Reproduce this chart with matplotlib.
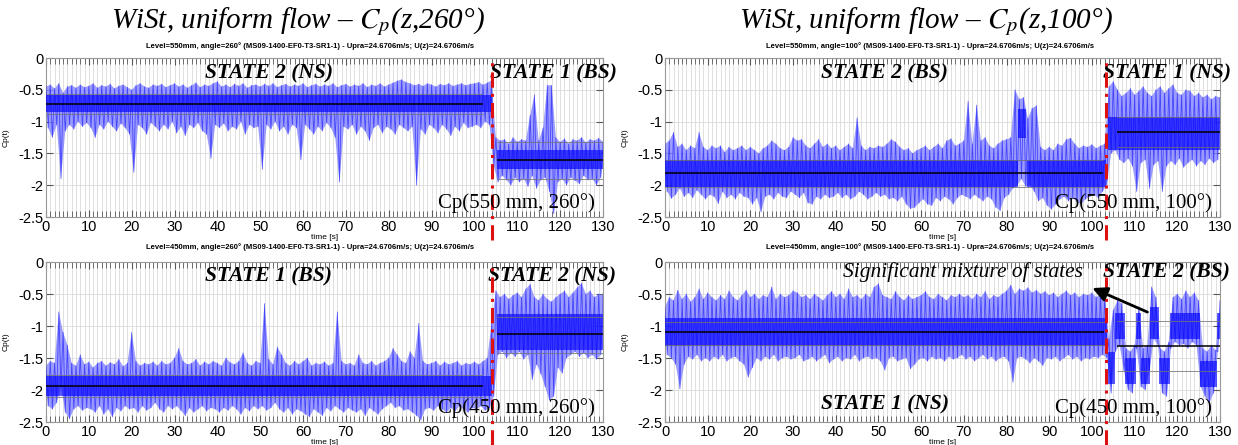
import numpy as np
import matplotlib
matplotlib.use("Agg")
import matplotlib.pyplot as plt

plt.rcParams['font.family'] = ['Liberation Sans', 'DejaVu Sans']
plt.rcParams['mathtext.fontset'] = 'stix'

# time grid of the read-off envelope: upper values at whole seconds,
# lower values at the half seconds in between
t_hi = np.arange(0, 131, 1.0)
t_lo = np.arange(0.5, 130, 1.0)

# ---- Cp(550 mm, 260 deg) ----
cp550_260_hi = [
    -0.45, -0.42, -0.48, -0.40, -0.55, -0.45, -0.43, -0.47, -0.42, -0.46,
    -0.44, -0.40, -0.47, -0.43, -0.45, -0.41, -0.48, -0.44, -0.42, -0.46,
    -0.50, -0.43, -0.40, -0.45, -0.47, -0.42, -0.44, -0.41, -0.46, -0.43,
    -0.40, -0.45, -0.42, -0.47, -0.43, -0.39, -0.46, -0.42, -0.44, -0.40,
    -0.37, -0.45, -0.42, -0.46, -0.41, -0.44, -0.40, -0.47, -0.43, -0.42,
    -0.45, -0.41, -0.44, -0.40, -0.46, -0.43, -0.41, -0.45, -0.42, -0.44,
    -0.40, -0.46, -0.43, -0.41, -0.45, -0.42, -0.44, -0.40, -0.46, -0.43,
    -0.41, -0.45, -0.42, -0.44, -0.40, -0.46, -0.42, -0.44, -0.40, -0.45,
    -0.42, -0.39, -0.36, -0.34, -0.38, -0.40, -0.43, -0.41, -0.44, -0.40,
    -0.42, -0.45, -0.41, -0.43, -0.40, -0.44, -0.42, -0.40, -0.43, -0.41,
    -0.40, -0.38, -0.42, -0.39, -0.35,
    -1.25, -1.30, -1.28, -1.35, -1.25, -1.32, -1.28, -1.30, -0.90, -0.58,
    -1.30, -1.10, -0.43, -0.43, -1.25, -1.32, -1.27, -1.35, -1.28, -1.30,
    -1.25, -1.33, -1.28, -1.30, -1.26, -1.32]
cp550_260_lo = [
    -1.10, -1.25, -1.05, -1.90, -1.15, -1.05, -1.12, -1.00, -1.08, -1.02,
    -1.10, -1.25, -1.05, -1.12, -1.00, -1.08, -1.15, -1.03, -1.10, -1.20,
    -1.80, -1.05, -1.10, -1.20, -1.02, -1.08, -1.15, -1.05, -1.12, -1.00,
    -1.18, -1.08, -1.22, -1.05, -1.10, -1.02, -1.15, -1.20, -1.58, -1.05,
    -1.10, -1.03, -1.15, -1.08, -1.12, -1.00, -1.20, -1.05, -1.10, -1.08,
    -1.75, -1.05, -1.12, -1.00, -1.15, -1.08, -1.20, -1.05, -1.10, -1.60,
    -1.05, -1.12, -1.20, -1.08, -1.15, -1.02, -1.10, -1.25, -1.95, -1.08,
    -1.12, -1.05, -1.20, -1.08, -1.15, -1.30, -1.10, -1.05, -1.18, -1.08,
    -1.12, -1.20, -1.05, -1.10, -1.15, -1.08, -2.00, -1.12, -1.20, -1.05,
    -1.10, -1.18, -1.05, -1.12, -1.22, -1.08, -1.15, -1.02, -1.10, -1.08,
    -1.05, -1.10, -1.00, -1.05,
    -1.70,
    -1.95, -1.85, -1.92, -2.00, -1.88, -1.95, -1.90, -2.02, -1.85, -2.05,
    -1.92, -1.88, -2.10, -2.45, -1.95, -1.90, -2.00, -1.88, -1.93, -1.98,
    -1.85, -1.92, -1.90, -2.00, -1.88]
cp550_260_core = [(0, 104, -0.85, -0.58), (105.2, 130, -1.75, -1.45)]
cp550_260_stats = [(0, 102, -0.72, -0.56, -0.88), (105.3, 130, -1.60, -1.32, -1.90)]

# ---- Cp(450 mm, 260 deg) ----
cp450_260_hi = [
    -1.62, -1.55, -1.58, -0.78, -1.10, -1.30, -1.58, -1.62, -1.45, -1.60,
    -1.56, -1.65, -1.58, -1.55, -1.62, -1.57, -1.60, -1.52, -1.63, -1.58,
    -1.10, -1.55, -1.62, -1.58, -1.60, -1.56, -1.62, -1.55, -1.60, -1.58,
    -1.50, -1.35, -1.55, -1.60, -1.58, -1.52, -1.62, -1.56, -1.60, -1.55,
    -1.58, -1.62, -1.50, -1.57, -1.60, -1.55, -1.42, -1.58, -1.62, -1.55,
    -1.58, -0.65, -1.52, -1.60, -1.33, -1.45, -1.58, -1.62, -1.55, -1.60,
    -1.55, -1.50, -1.62, -1.58, -1.60, -1.56, -1.62, -1.58, -0.78, -1.55,
    -1.60, -1.58, -1.62, -1.45, -1.58, -1.60, -1.55, -1.62, -1.58, -1.55,
    -1.50, -1.35, -1.45, -1.55, -1.58, -1.40, -1.50, -0.96, -1.55, -1.60,
    -1.58, -1.55, -1.62, -1.56, -1.60, -1.58, -1.55, -1.62, -1.58, -1.60,
    -1.56, -1.60, -1.55, -1.50, -0.95,
    -0.45, -0.55, -0.50, -0.58, -0.52, -0.48, -0.55, -0.42, -0.35, -0.55,
    -0.60, -0.50, -0.58, -0.62, -0.55, -0.50, -0.45, -0.55, -0.48, -0.40,
    -0.33, -0.50, -0.45, -0.55, -0.50, -0.52]
cp450_260_lo = [
    -2.25, -2.30, -2.20, -1.95, -2.35, -2.45, -2.30, -2.25, -2.32, -2.28,
    -2.30, -2.35, -2.25, -2.38, -2.30, -2.42, -2.28, -2.33, -2.25, -2.30,
    -2.28, -2.35, -2.25, -2.32, -2.28, -2.20, -2.30, -2.35, -2.25, -2.30,
    -2.25, -2.32, -2.40, -2.28, -2.35, -2.30, -2.25, -2.33, -2.28, -2.30,
    -2.35, -2.28, -2.32, -2.25, -2.30, -2.38, -2.28, -2.33, -2.25, -2.30,
    -2.25, -2.32, -2.28, -2.20, -2.30, -2.35, -2.28, -2.38, -2.30, -2.33,
    -2.38, -2.42, -2.30, -2.35, -2.40, -2.28, -2.33, -2.25, -2.30, -2.35,
    -2.28, -2.32, -2.35, -2.30, -2.40, -2.28, -2.33, -2.38, -2.30, -2.25,
    -2.20, -2.28, -2.25, -2.32, -2.30, -2.35, -2.40, -2.47, -2.30, -2.28,
    -2.32, -2.25, -2.30, -2.35, -2.28, -2.33, -2.25, -2.30, -2.35, -2.28,
    -2.30, -2.25, -2.32, -2.28,
    -2.10,
    -1.45, -1.40, -1.50, -1.42, -1.48, -1.40, -1.52, -1.45, -1.84, -1.60,
    -1.75, -1.95, -2.16, -2.10, -1.65, -1.74, -1.50, -1.45, -1.40, -1.48,
    -1.42, -1.50, -1.45, -1.52, -1.45]
cp450_260_core = [(0, 104, -2.10, -1.78), (105.2, 130, -1.38, -0.82)]
cp450_260_stats = [(0, 102, -1.93, -1.77, -2.11), (105.2, 130, -1.125, -0.855, -1.42)]

# ---- Cp(550 mm, 100 deg) ----
cp550_100_hi = [
    -1.35, -1.30, -1.17, -1.40, -1.35, -1.45, -1.38, -1.42, -1.17, -1.40,
    -1.45, -1.38, -1.42, -1.38, -1.48, -1.40, -1.45, -1.42, -1.38, -1.45,
    -1.40, -1.45, -1.50, -1.42, -1.38, -1.30, -1.35, -1.42, -1.45, -1.40,
    -1.25, -1.30, -1.28, -1.38, -1.42, -1.35, -1.28, -1.40, -1.35, -1.42,
    -1.38, -1.45, -1.40, -1.35, -1.42, -0.94, -1.38, -1.45, -1.40, -1.42,
    -1.38, -1.40, -1.35, -1.28, -1.32, -1.40, -1.45, -1.42, -1.50, -1.45,
    -1.42, -1.38, -1.45, -1.40, -1.35, -1.42, -1.30, -1.27, -1.38, -1.35,
    -1.30, -0.68, -1.35, -0.74, -1.30, -1.25, -1.38, -1.42, -1.35, -1.30,
    -1.28, -1.25, -0.50, -0.65, -0.62, -0.95, -0.79, -0.75, -1.40, -1.45,
    -1.40, -1.45, -1.35, -1.38, -1.28, -1.26, -1.35, -1.42, -1.38, -1.40,
    -1.36, -1.42, -1.38, -1.35,
    -0.45, -0.37, -0.50, -0.60, -0.55, -0.48, -0.58, -0.52, -0.45, -0.55,
    -0.60, -0.50, -0.45, -0.55, -0.48, -0.42, -0.55, -0.58, -0.50, -0.52,
    -0.60, -0.55, -0.62, -0.58, -0.65, -0.60, -0.62]
cp550_100_lo = [
    -2.10, -2.21, -2.15, -2.05, -2.18, -2.12, -2.20, -2.08, -2.15, -2.22,
    -2.15, -2.18, -2.29, -2.10, -2.20, -2.15, -2.22, -2.12, -2.18, -2.20,
    -2.30, -2.20, -2.42, -2.18, -2.15, -2.22, -2.12, -2.18, -2.20, -2.10,
    -2.15, -2.20, -2.12, -2.28, -2.30, -2.18, -2.22, -2.15, -2.20, -2.18,
    -2.12, -2.20, -2.15, -2.22, -2.18, -2.10, -2.15, -2.22, -2.18, -2.12,
    -2.18, -2.15, -2.22, -2.20, -2.25, -2.18, -2.30, -2.37, -2.35, -2.28,
    -2.22, -2.30, -2.32, -2.20, -2.25, -2.18, -2.22, -2.30, -2.20, -2.15,
    -2.18, -2.22, -2.15, -2.20, -2.25, -2.18, -2.22, -2.35, -2.40, -2.20,
    -2.15, -2.05, -2.00, -1.90, -2.02, -2.00, -2.10, -2.25, -2.20, -2.32,
    -2.38, -2.30, -2.22, -2.18, -2.25, -2.20, -2.26, -2.30, -2.22, -2.18,
    -2.15, -2.20, -2.10,
    -2.00,
    -1.50, -1.45, -1.60, -1.65, -1.58, -1.70, -2.10, -1.65, -1.60, -2.05,
    -1.68, -1.62, -2.10, -1.70, -1.62, -1.68, -1.58, -1.72, -1.65, -1.60,
    -1.70, -1.62, -1.68, -1.58, -1.65, -1.60]
cp550_100_core = [(0, 82.6, -2.03, -1.60), (82.8, 84.6, -1.25, -0.80),
                  (84.8, 103.3, -2.03, -1.60), (103.8, 130, -1.45, -0.92)]
cp550_100_stats = [(0, 102.6, -1.81, -1.61, -2.03), (105.8, 130, -1.16, -0.93, -1.40)]

# ---- Cp(450 mm, 100 deg) ----
cp450_100_hi = [
    -0.70, -0.55, -0.60, -0.44, -0.58, -0.50, -0.62, -0.55, -0.42, -0.58,
    -0.48, -0.55, -0.60, -0.52, -0.58, -0.45, -0.55, -0.60, -0.52, -0.44,
    -0.55, -0.50, -0.58, -0.52, -0.55, -0.39, -0.58, -0.50, -0.55, -0.52,
    -0.45, -0.48, -0.55, -0.52, -0.58, -0.50, -0.55, -0.60, -0.52, -0.46,
    -0.55, -0.50, -0.58, -0.42, -0.55, -0.52, -0.58, -0.50, -0.55, -0.39,
    -0.34, -0.52, -0.55, -0.58, -0.46, -0.55, -0.60, -0.52, -0.58, -0.55,
    -0.52, -0.46, -0.55, -0.58, -0.50, -0.55, -0.60, -0.52, -0.55, -0.50,
    -0.55, -0.52, -0.58, -0.50, -0.55, -0.46, -0.58, -0.52, -0.55, -0.50,
    -0.45, -0.36, -0.50, -0.42, -0.45, -0.40, -0.48, -0.44, -0.50, -0.46,
    -0.52, -0.48, -0.55, -0.50, -0.45, -0.52, -0.48, -0.55, -0.50, -0.52,
    -0.48, -0.55, -0.50, -0.52,
    -1.20,
    -0.75, -0.60, -0.65, -1.35, -1.40, -1.30, -0.70, -1.35, -1.30, -0.39,
    -0.55, -1.35, -1.40, -1.25, -0.55, -0.50, -0.58, -0.45, -0.55, -0.48,
    -0.60, -1.35, -1.40, -1.30, -1.38, -0.60]
cp450_100_lo = [
    -1.45, -1.50, -1.60, -1.98, -1.60, -1.48, -1.52, -1.45, -1.55, -1.50,
    -1.55, -1.48, -1.52, -1.45, -1.55, -1.50, -1.48, -1.55, -1.60, -1.80,
    -1.65, -1.50, -1.55, -1.48, -1.52, -1.45, -1.55, -1.50, -1.48, -1.52,
    -1.50, -1.45, -1.55, -1.52, -1.48, -1.55, -1.50, -1.45, -1.58, -1.52,
    -1.48, -1.55, -1.50, -1.52, -1.45, -1.55, -1.50, -1.48, -1.52, -1.50,
    -1.55, -1.69, -1.50, -1.48, -1.55, -1.52, -1.50, -1.67, -1.60, -1.52,
    -1.50, -1.55, -1.48, -1.52, -1.50, -1.55, -1.48, -1.52, -1.50, -1.45,
    -1.52, -1.48, -1.55, -1.50, -1.45, -1.52, -1.48, -1.55, -1.50, -1.48,
    -1.55, -1.88, -1.50, -1.48, -1.52, -1.58, -1.50, -1.55, -1.62, -1.50,
    -1.52, -1.48, -1.55, -1.50, -1.45, -1.52, -1.48, -1.55, -1.50, -1.52,
    -1.48, -1.50, -1.45,
    -1.50,
    -2.05, -1.40, -1.30, -1.70, -2.00, -2.05, -1.35, -1.95, -2.00, -1.70,
    -1.20, -1.30, -2.05, -2.10, -1.35, -1.25, -1.30, -1.28, -1.35, -1.25,
    -1.30, -1.95, -2.10, -2.20, -2.05, -1.40]
cp450_100_core = [(0, 103.5, -1.32, -0.88), (103.8, 105.3, -1.90, -1.40),
                  (105.3, 107.8, -1.20, -0.80), (107.8, 110.4, -1.90, -1.50),
                  (110.4, 111.6, -1.20, -0.80), (111.6, 113.6, -1.90, -1.50),
                  (113.6, 115.6, -1.20, -0.70), (115.6, 118.3, -1.90, -1.50),
                  (118.3, 125.2, -1.20, -0.80), (125.2, 129.4, -1.95, -1.55),
                  (129.4, 130, -1.20, -0.80)]
cp450_100_stats = [(0, 102.8, -1.10, -0.93, -1.29), (105.8, 130, -1.31, -0.92, -1.70)]

subtitle = ("Level={}mm, angle={}\u00b0 (MS09-1400-EF0-T3-SR1-1) - "
            "Upra=24.6706m/s; U(z)=24.6706m/s")

fig = plt.figure(figsize=(12.38, 4.45), dpi=100)


def frac(x0, y0, x1, y1):
    # pixel box -> figure fraction rect
    return [x0 / 1238, 1 - y1 / 445, (x1 - x0) / 1238, (y1 - y0) / 445]


def draw_panel(ax, hi, lo, core, stats, switch_t):
    assert len(hi) == 131 and len(lo) == 130
    x = np.empty(261)
    y = np.empty(261)
    x[0::2] = t_hi
    x[1::2] = t_lo
    y[0::2] = hi
    y[1::2] = lo

    ax.set_xlim(0, 130)
    ax.set_ylim(-2.5, 0)
    ax.set_xticks(np.arange(0, 131, 10))
    ax.set_xticks(np.arange(0, 131, 1), minor=True)
    ax.set_yticks([0, -0.5, -1, -1.5, -2, -2.5])
    ax.set_yticklabels(['0', '-0.5', '-1', '-1.5', '-2', '-2.5'])
    ax.tick_params(which='both', direction='in', top=True, right=True,
                   labelsize=10.5, color='0.35', pad=2)
    ax.tick_params(which='major', length=5)
    ax.tick_params(which='minor', length=4, width=0.6)
    ax.grid(which='both', axis='x', color='0.86', lw=0.6)
    ax.grid(which='major', axis='y', color='0.86', lw=0.6)
    ax.set_axisbelow(True)
    for s in ax.spines.values():
        s.set_color('0.6')
        s.set_linewidth(0.8)
    ax.set_xlabel('time [s]', fontsize=6, labelpad=0)
    ax.set_ylabel('Cp(t)', fontsize=6, labelpad=6)

    # light fringe = full excursion band, darker core = where the trace sits most
    ax.fill(np.r_[t_hi, t_lo[::-1]], np.r_[hi, lo[::-1]],
            color=(0.52, 0.52, 1.0), lw=0, alpha=0.8, zorder=2)
    for t0, t1, c_lo, c_hi in core:
        ax.fill_between([t0, t1], [c_lo, c_lo], [c_hi, c_hi],
                        color='blue', alpha=0.65, lw=0, zorder=3)
    ax.plot(x, y, color='blue', lw=0.6, alpha=0.55, zorder=3)

    for t0, t1, m, up, dn in stats:
        ax.hlines([up, dn], t0, t1, color='0.45', lw=0.7, alpha=0.8, zorder=4)
        ax.hlines(m, t0, t1, color='black', lw=1.1, zorder=5)

    ax.axvline(switch_t, ymin=-0.145, ymax=1.0, color='#dd1111', lw=2.2,
               ls=(0, (5, 2, 1, 2)), clip_on=False, zorder=6)


serif = ['Liberation Serif', 'DejaVu Serif']
bold_it = dict(family=serif, fontsize=15.5, fontweight='bold', style='italic')

ax1 = fig.add_axes(frac(46, 58, 603, 217))
draw_panel(ax1, cp550_260_hi, cp550_260_lo, cp550_260_core, cp550_260_stats, 104)
ax2 = fig.add_axes(frac(46, 262, 603, 422))
draw_panel(ax2, cp450_260_hi, cp450_260_lo, cp450_260_core, cp450_260_stats, 104)
ax3 = fig.add_axes(frac(665, 58, 1220, 217))
draw_panel(ax3, cp550_100_hi, cp550_100_lo, cp550_100_core, cp550_100_stats, 103.4)
ax4 = fig.add_axes(frac(665, 262, 1220, 422))
draw_panel(ax4, cp450_100_hi, cp450_100_lo, cp450_100_core, cp450_100_stats, 103.4)

# titles
fig.text(298 / 1238, 1 - 22 / 445, 'WiSt, uniform flow \u2013 $C_p$(z,260\u00b0)',
         family=serif, style='italic', fontsize=21, ha='center', va='center')
fig.text(926 / 1238, 1 - 22 / 445, 'WiSt, uniform flow \u2013 $C_p$(z,100\u00b0)',
         family=serif, style='italic', fontsize=21, ha='center', va='center')
for xc, yc, lev, ang in [(310, 46, 550, 260), (310, 247, 450, 260),
                         (930, 46, 550, 100), (930, 247, 450, 100)]:
    fig.text(xc / 1238, 1 - yc / 445, subtitle.format(lev, ang), fontsize=5.5,
             fontweight='bold', ha='center', va='center')

# state labels
ax1.text(52, -0.24, 'STATE 2 (NS)', ha='center', va='center', **bold_it)
ax1.text(103.6, -0.24, 'STATE 1 (BS)', ha='left', va='center', clip_on=False, **bold_it)
ax2.text(52, -0.23, 'STATE 1 (BS)', ha='center', va='center', **bold_it)
ax2.text(103.2, -0.23, 'STATE 2 (NS)', ha='left', va='center', clip_on=False, **bold_it)
ax3.text(51.5, -0.24, 'STATE 2 (BS)', ha='center', va='center', **bold_it)
ax3.text(102.6, -0.24, 'STATE 1 (NS)', ha='left', va='center', clip_on=False, **bold_it)
ax4.text(102.6, -0.16, 'STATE 2 (BS)', ha='left', va='center', clip_on=False, **bold_it)
ax4.text(51.5, -2.23, 'STATE 1 (NS)', ha='center', va='center', **bold_it)
ax4.text(41.7, -0.16, 'Significant mixture of states', family=serif, style='italic',
         fontsize=15.5, ha='left', va='center')
ax4.annotate('', xy=(99.5, -0.39), xytext=(113.6, -0.80),
             arrowprops=dict(arrowstyle='-|>', color='black', lw=2, mutation_scale=22),
             zorder=7)

for ax, lab in [(ax1, 'Cp(550 mm, 260\u00b0)'), (ax2, 'Cp(450 mm, 260\u00b0)'),
                (ax3, 'Cp(550 mm, 100\u00b0)'), (ax4, 'Cp(450 mm, 100\u00b0)')]:
    ax.text(0.985, 0.09, lab, transform=ax.transAxes, family=serif, fontsize=15,
            ha='right', va='center', zorder=8)

fig.savefig('out.png', dpi=100)
